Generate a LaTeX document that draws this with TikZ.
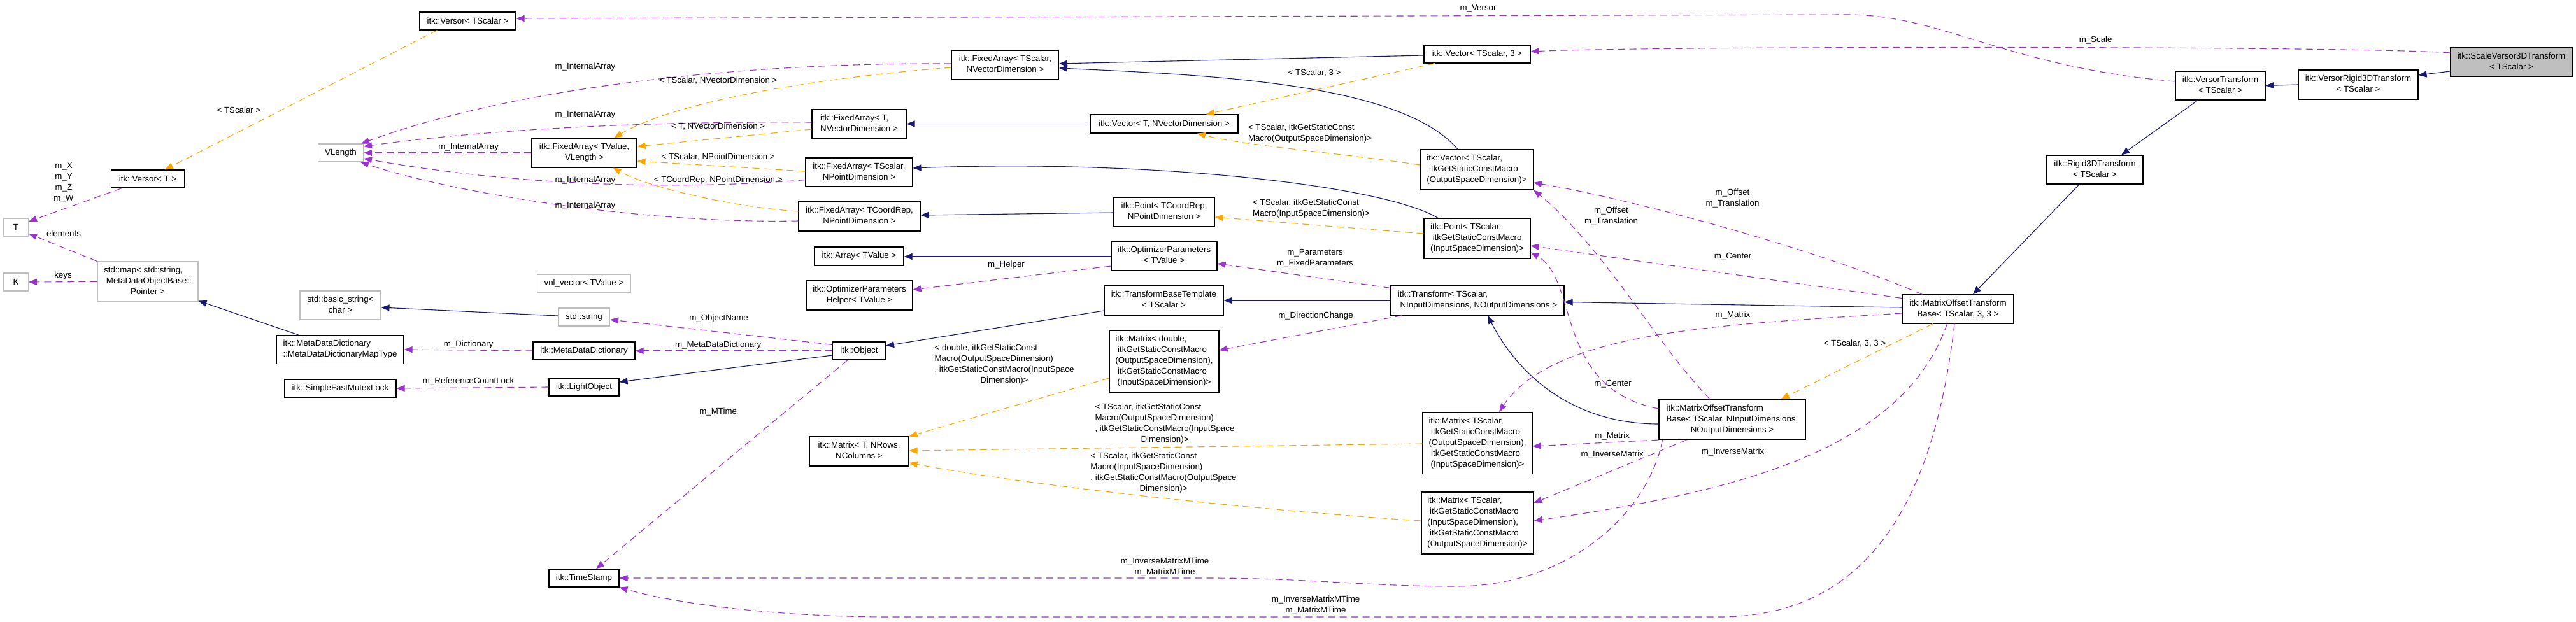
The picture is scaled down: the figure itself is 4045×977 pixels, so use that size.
\documentclass[tikz,border=0pt]{standalone}
\usepackage{fontspec}
\setmainfont{Liberation Sans}
\usetikzlibrary{arrows.meta}
\definecolor{nav}{HTML}{191970}
\definecolor{pur}{HTML}{9A32CD}
\definecolor{org}{HTML}{FFA500}
\definecolor{gry}{HTML}{BFBFBF}
\newcommand{\fs}{\fontsize{13.3}{17}\selectfont}
\newcommand{\TabL}[1]{\begin{tabular}{@{}l@{}}#1\end{tabular}}
\newcommand{\TabC}[1]{\begin{tabular}{@{}c@{}}#1\end{tabular}}
\newcommand{\LastC}[1]{\multicolumn{1}{@{}c@{}}{#1}}
\tikzset{
  box/.style={draw=black, line width=1.1pt, fill=white, inner sep=0pt, font=\fs},
  ubox/.style={box, draw=gry},
  sz/.style 2 args={minimum width=#1pt, minimum height=#2pt},
  einh/.style={draw=nav, line width=1.1pt, -{Triangle[length=13pt,width=10pt]}},
  euse/.style={draw=pur, line width=1.1pt, dash pattern=on 11pt off 7pt, -{Triangle[length=13pt,width=10pt]}},
  etpl/.style={draw=org, line width=1.1pt, dash pattern=on 11pt off 7pt, -{Triangle[length=13pt,width=10pt]}},
  lbl/.style={inner sep=0pt, font=\fs, text=black},
}
\begin{document}
\begin{tikzpicture}[x=1pt,y=-1pt]
\fill[white] (0,0) rectangle (4045,977);
\useasboundingbox (0,0) rectangle (4045,977);

% nodes
\node[ubox,sz={39}{28}] (T) at (25,357) {T};
\node[ubox,sz={39}{28}] (K) at (25,443) {K};
\node[box,sz={115}{28}] (versorT) at (232,281) {itk::Versor< T >};
\node[ubox,sz={158}{63}] (stdmap) at (232,442.5) {\TabL{std::map< std::string,\\\ MetaDataObjectBase::\\\LastC{Pointer >}}};
\node[ubox,sz={71}{28}] (VLength) at (535,240) {VLength};
\node[ubox,sz={127}{45}] (basicstr) at (534.5,479.5) {\TabL{std::basic\_string<\\\LastC{char >}}};
\node[box,sz={200}{45}] (mdmap) at (534,549) {\TabL{itk::MetaDataDictionary\\::MetaDataDictionaryMapType}};
\node[box,sz={175}{28}] (mutex) at (534.5,610) {itk::SimpleFastMutexLock};
\node[box,sz={151}{28}] (versorTS) at (734.5,33) {itk::Versor< TScalar >};
\node[box,sz={165}{46}] (faTV) at (917.5,240) {\TabL{itk::FixedArray< TValue,\\\LastC{VLength >}}};
\node[ubox,sz={147}{28}] (vnl) at (917,445) {vnl\_vector< TValue >};
\node[ubox,sz={81}{28}] (stdstr) at (917,498) {std::string};
\node[box,sz={160}{28}] (mdd) at (917,551) {itk::MetaDataDictionary};
\node[box,sz={110}{28}] (lightobj) at (917,608) {itk::LightObject};
\node[box,sz={110}{28}] (timestamp) at (917,908) {itk::TimeStamp};
\node[box,sz={148}{45}] (faTNV) at (1349,194.5) {\TabL{itk::FixedArray< T,\\\LastC{NVectorDimension >}}};
\node[box,sz={168}{45}] (faTSNP) at (1349,270.5) {\TabL{itk::FixedArray< TScalar,\\\LastC{NPointDimension >}}};
\node[box,sz={191}{46}] (faTCNP) at (1349.5,340) {\TabL{itk::FixedArray< TCoordRep,\\\LastC{NPointDimension >}}};
\node[box,sz={140}{29}] (array) at (1349,402.5) {itk::Array< TValue >};
\node[box,sz={167}{46}] (opthelper) at (1349.5,464) {\TabL{itk::OptimizerParameters\\\LastC{Helper< TValue >}}};
\node[box,sz={83}{28}] (object) at (1349,551) {itk::Object};
\node[box,sz={156}{46}] (matrixT) at (1349,709) {\TabL{itk::Matrix< T, NRows,\\\LastC{NColumns >}}};
\node[box,sz={168}{46}] (faTSNV) at (1578.5,102) {\TabL{itk::FixedArray< TScalar,\\\LastC{NVectorDimension >}}};
\node[box,sz={232}{29}] (vecTN) at (1828,194.5) {itk::Vector< T, NVectorDimension >};
\node[box,sz={158}{46}] (pointTC) at (1828,333) {\TabL{itk::Point< TCoordRep,\\\LastC{NPointDimension >}}};
\node[box,sz={166}{46}] (optparams) at (1828,402) {\TabL{itk::OptimizerParameters\\\LastC{< TValue >}}};
\node[box,sz={187}{46}] (tbt) at (1827.5,472) {\TabL{itk::TransformBaseTemplate\\\LastC{< TScalar >}}};
\node[box,sz={172}{97}] (matD) at (1828,567.5) {\TabL{itk::Matrix< double,\\\ itkGetStaticConstMacro\\(OutputSpaceDimension),\\\ itkGetStaticConstMacro\\\LastC{(InputSpaceDimension)>}}};
\node[box,sz={167}{28}] (vecTS3) at (2319.5,85) {itk::Vector< TScalar, 3 >};
\node[box,sz={177}{63}] (vecOut) at (2319,266.5) {\TabL{itk::Vector< TScalar,\\\ itkGetStaticConstMacro\\\LastC{(OutputSpaceDimension)>}}};
\node[box,sz={167}{63}] (pointIn) at (2319.5,374.5) {\TabL{itk::Point< TScalar,\\\ itkGetStaticConstMacro\\\LastC{(InputSpaceDimension)>}}};
\node[box,sz={272}{46}] (transform) at (2320,472) {\TabL{itk::Transform< TScalar,\\\ NInputDimensions, NOutputDimensions >}};
\node[box,sz={172}{97}] (matOI) at (2320,696) {\TabL{itk::Matrix< TScalar,\\\ itkGetStaticConstMacro\\(OutputSpaceDimension),\\\ itkGetStaticConstMacro\\\LastC{(InputSpaceDimension)>}}};
\node[box,sz={176}{97}] (matIO) at (2320,821.5) {\TabL{itk::Matrix< TScalar,\\\ itkGetStaticConstMacro\\(InputSpaceDimension),\\\ itkGetStaticConstMacro\\\LastC{(OutputSpaceDimension)>}}};
\node[box,sz={230}{63}] (motbN) at (2720,659) {\TabL{itk::MatrixOffsetTransform\\Base< TScalar, NInputDimensions,\\\LastC{NOutputDimensions >}}};
\node[box,sz={175}{45}] (motb33) at (3074.5,485.5) {\TabL{itk::MatrixOffsetTransform\\\LastC{Base< TScalar, 3, 3 >}}};
\node[box,sz={151}{45}] (rigid3d) at (3289.5,266.5) {\TabL{itk::Rigid3DTransform\\\LastC{< TScalar >}}};
\node[box,sz={141}{45}] (versorTr) at (3486.5,134.5) {\TabL{itk::VersorTransform\\\LastC{< TScalar >}}};
\node[box,sz={188}{46}] (versorRigid) at (3703,133) {\TabL{itk::VersorRigid3DTransform\\\LastC{< TScalar >}}};
\node[box,fill=gry,sz={191}{45}] (scaleVersor) at (3943.5,97.5) {\TabL{itk::ScaleVersor3DTransform\\\LastC{< TScalar >}}};

% edges
\draw[etpl] ([shift={(28,0)}]versorTS.south west) -- ([shift={(27,0)}]versorT.north);
\draw[euse] ([shift={(17.5,0)}]versorT.south west) -- ([shift={(0,-9)}]T.east);
\draw[euse] (stdmap.north west) -- ([shift={(0,10)}]T.east);
\draw[euse] (stdmap.west) -- (K.east);
\draw[einh] ([shift={(35,0)}]mdmap.north west) -- ([shift={(0,-2)}]stdmap.south east);
\draw[einh] ([shift={(0,-2)}]stdstr.west) -- ([shift={(0,3.5)}]basicstr.east);
\draw[euse] (mdd.west) -- (mdmap.east);
\draw[euse] (lightobj.west) -- (mutex.east);
\draw[euse] ([shift={(0,5)}]object.north west) -- ([shift={(0,4)}]stdstr.east);
\draw[euse] (object.west) -- (mdd.east);
\draw[einh] ([shift={(0,7)}]object.west) -- ([shift={(0,-8)}]lightobj.east);
\draw[euse] ([shift={(-18,0)}]object.south) -- ([shift={(19,0)}]timestamp.north);

\draw[euse] ([shift={(0,-2)}]faTSNV.west) .. controls (1150,98) and (800,140) .. ([shift={(-4,0)}]VLength.north east);
\draw[etpl] ([shift={(0,4)}]faTSNV.west) .. controls (1250,125) and (1050,165) .. ([shift={(47,0)}]faTV.north);
\draw[euse] ([shift={(0,-2.5)}]faTNV.west) .. controls (1000,190) and (750,205) .. ([shift={(0,-10)}]VLength.east);
\draw[etpl] ([shift={(0,8.5)}]faTNV.west) -- ([shift={(0,-10)}]faTV.east);
\draw[euse] (faTV.west) -- (VLength.east);
\draw[etpl] ([shift={(0,-1.5)}]faTSNP.west) -- ([shift={(0,13)}]faTV.east);
\draw[euse] ([shift={(0,12)}]faTSNP.west) .. controls (1050,300) and (800,290) .. ([shift={(0,9)}]VLength.east);
\draw[etpl] ([shift={(0,-8)}]faTCNP.west) .. controls (1150,325) and (1020,295) .. ([shift={(45,0)}]faTV.south);
\draw[euse] ([shift={(0,7)}]faTCNP.west) .. controls (1000,352) and (700,300) .. ([shift={(-5,0)}]VLength.south east);

\draw[einh] ([shift={(0,2)}]vecTS3.west) -- ([shift={(0,-2)}]faTSNV.east);
\draw[einh] ([shift={(-30,0)}]vecOut.north) .. controls (2200,130) and (1900,118) .. ([shift={(0,5)}]faTSNV.east);
\draw[einh] (vecTN.west) -- (faTNV.east);
\draw[einh] ([shift={(-61.5,0)}]pointIn.north) .. controls (2170,290) and (1800,250) .. ([shift={(0,-6.5)}]faTSNP.east);
\draw[einh] ([shift={(0,1)}]pointTC.west) -- ([shift={(0,-2)}]faTCNP.east);
\draw[einh] ([shift={(0,1)}]optparams.west) -- ([shift={(0,0.5)}]array.east);
\draw[euse] ([shift={(0,16)}]optparams.west) -- ([shift={(0,-9)}]opthelper.east);
\draw[einh] (transform.west) -- (tbt.east);
\draw[einh] ([shift={(0,16)}]tbt.west) -- ([shift={(0,-8)}]object.east);
\draw[etpl] ([shift={(17.5,0)}]vecTS3.south west) -- ([shift={(66,0)}]vecTN.north);
\draw[etpl] ([shift={(0,-7.5)}]vecOut.west) .. controls (2100,240) and (1950,228) .. ([shift={(52,0)}]vecTN.south);
\draw[etpl] ([shift={(0,-7.5)}]pointIn.west) -- ([shift={(0,8)}]pointTC.east);
\draw[euse] ([shift={(0,4)}]transform.north west) -- ([shift={(0,12)}]optparams.east);
\draw[euse] ([shift={(18,0)}]transform.south west) -- ([shift={(0,-17.5)}]matD.east);
\draw[etpl] ([shift={(0,26.5)}]matD.west) -- (matrixT.north east);
\draw[etpl] ([shift={(0,1)}]matOI.west) -- ([shift={(0,-1)}]matrixT.east);
\draw[etpl] ([shift={(0,-3.5)}]matIO.west) .. controls (1950,800) and (1600,760) .. ([shift={(0,18)}]matrixT.east);

\draw[einh] ([shift={(0,7)}]motbN.west) .. controls (2480,666) and (2390,600) .. ([shift={(16,0)}]transform.south);
\draw[einh] ([shift={(0,-2.5)}]motb33.west) -- ([shift={(0,2.5)}]transform.east);
\draw[euse] ([shift={(32,0)}]motb33.north west) .. controls (2850,390) and (2550,310) .. ([shift={(0,20.5)}]vecOut.east);
\draw[euse] ([shift={(-35,0)}]motbN.north) .. controls (2600,540) and (2520,390) .. (vecOut.south east);
\draw[euse] ([shift={(0,-17)}]motb33.west) -- ([shift={(0,11.5)}]pointIn.east);
\draw[euse] ([shift={(0,-17)}]motbN.west) .. controls (2440,610) and (2480,440) .. ([shift={(0,22)}]pointIn.east);
\draw[euse] (motbN.south west) -- ([shift={(0,5)}]matOI.east);
\draw[euse] ([shift={(44,0)}]motbN.south west) -- ([shift={(0,-31.5)}]matIO.east);
\draw[euse] ([shift={(6,0)}]motbN.south west) .. controls (2590,800) and (2470,921) .. (2285,921) .. controls (2150,921) and (2050,908) .. (1900,908) -- (timestamp.east);
\draw[euse] ([shift={(0,6.5)}]motb33.west) .. controls (2700,510) and (2440,520) .. ([shift={(34,0)}]matOI.north);
\draw[euse] ([shift={(-17,0)}]motb33.south) .. controls (2990,700) and (2750,770) .. ([shift={(0,-3.5)}]matIO.east);
\draw[euse] ([shift={(-5.5,0)}]motb33.south) .. controls (3040,760) and (2950,969) .. (2700,969) -- (1400,969) .. controls (1200,969) and (1050,945) .. (timestamp.south east);
\draw[etpl] ([shift={(-39.5,0)}]motb33.south) -- ([shift={(-39,0)}]motbN.north east);
\draw[einh] ([shift={(-24.5,0)}]rigid3d.south) -- ([shift={(23.5,0)}]motb33.north);
\draw[einh] ([shift={(-35.5,0)}]versorTr.south) -- ([shift={(41.5,0)}]rigid3d.north);
\draw[einh] (versorRigid.west) -- (versorTr.east);
\draw[einh] ([shift={(0,14.5)}]scaleVersor.west) -- ([shift={(0,-15)}]versorRigid.east);
\draw[euse] ([shift={(0,-14.5)}]scaleVersor.west) .. controls (3700,72) and (2600,72) .. ([shift={(0,-4)}]vecTS3.east);
\draw[euse] ([shift={(0,-6.5)}]versorTr.west) .. controls (3150,105) and (3050,23) .. (2900,23) -- ([shift={(0,-4)}]versorTS.east);

% labels
\node[lbl] (l1) at (375,173) {< TScalar >};
\node[lbl] (l2) at (100,287) {\TabC{m\_X\\m\_Y\\m\_Z\\m\_W}};
\node[lbl] (l3) at (100,367) {elements};
\node[lbl] (l4) at (99,433) {keys};
\node[lbl] (l5) at (919,105) {m\_InternalArray};
\node[lbl] (l6) at (1127.7,127) {< TScalar, NVectorDimension >};
\node[lbl] (l7) at (919,180) {m\_InternalArray};
\node[lbl] (l8) at (1127.7,199) {< T, NVectorDimension >};
\node[lbl] (l9) at (735.7,231) {m\_InternalArray};
\node[lbl] (l10) at (1127.7,247) {< TScalar, NPointDimension >};
\node[lbl] (l11) at (919,283) {m\_InternalArray};
\node[lbl] (l12) at (1127.7,283) {< TCoordRep, NPointDimension >};
\node[lbl] (l13) at (919,323) {m\_InternalArray};
\node[lbl] (l14) at (1128.6,500) {m\_ObjectName};
\node[lbl] (l15) at (1127.7,542) {m\_MetaDataDictionary};
\node[lbl] (l16) at (735.7,541) {m\_Dictionary};
\node[lbl] (l17) at (735.7,598.6) {m\_ReferenceCountLock};
\node[lbl] (l18) at (1127.7,646.7) {m\_MTime};
\node[lbl] (l19) at (1580,416) {m\_Helper};
\node[lbl] (l20) at (2321,13) {m\_Versor};
\node[lbl] (l21) at (2064,115) {< TScalar, 3 >};
\node[lbl] (l22) at (2057,209.5) {\TabL{< TScalar, itkGetStaticConst\\\LastC{Macro(OutputSpaceDimension)>}}};
\node[lbl] (l23) at (2059,328) {\TabL{< TScalar, itkGetStaticConst\\\LastC{Macro(InputSpaceDimension)>}}};
\node[lbl] (l24) at (2065,406) {\TabC{m\_Parameters\\m\_FixedParameters}};
\node[lbl] (l25) at (2066,496) {m\_DirectionChange};
\node[lbl] (l26) at (1577,573) {\TabL{< double, itkGetStaticConst\\Macro(OutputSpaceDimension)\\, itkGetStaticConstMacro(InputSpace\\\LastC{Dimension)>}}};
\node[lbl] (l27) at (1829,665.5) {\TabL{< TScalar, itkGetStaticConst\\Macro(OutputSpaceDimension)\\, itkGetStaticConstMacro(InputSpace\\\LastC{Dimension)>}}};
\node[lbl] (l28) at (1827,742.5) {\TabL{< TScalar, itkGetStaticConst\\Macro(InputSpaceDimension)\\, itkGetStaticConstMacro(OutputSpace\\\LastC{Dimension)>}}};
\node[lbl] (l29) at (2530,339.5) {\TabC{m\_Offset\\m\_Translation}};
\node[lbl] (l30) at (2720.5,312) {\TabC{m\_Offset\\m\_Translation}};
\node[lbl] (l31) at (2721,403) {m\_Center};
\node[lbl] (l32) at (2532.6,603.6) {m\_Center};
\node[lbl] (l33) at (2721,495) {m\_Matrix};
\node[lbl] (l34) at (2531.7,685.4) {m\_Matrix};
\node[lbl] (l35) at (2721,710) {m\_InverseMatrix};
\node[lbl] (l36) at (2531.7,714) {m\_InverseMatrix};
\node[lbl] (l37) at (1829,890.5) {\TabC{m\_InverseMatrixMTime\\m\_MatrixMTime}};
\node[lbl] (l38) at (2066,950.5) {\TabC{m\_InverseMatrixMTime\\m\_MatrixMTime}};
\node[lbl] (l39) at (2912.5,539.6) {< TScalar, 3, 3 >};
\node[lbl] (l40) at (3290.6,63) {m\_Scale};
\end{tikzpicture}
\end{document}
